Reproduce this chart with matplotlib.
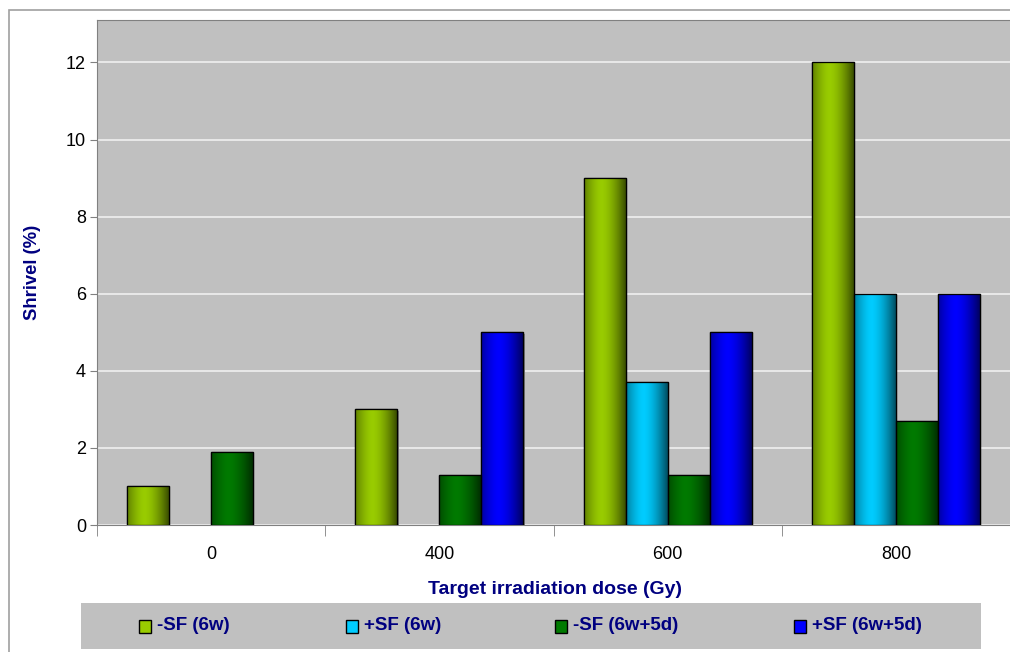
import numpy as np
import matplotlib.pyplot as plt
from matplotlib.patches import Rectangle
from matplotlib.colors import to_rgb

plt.rcParams['font.family'] = ['Liberation Sans', 'DejaVu Sans']

doses = ['0', '400', '600', '800']
series = ['-SF (6w)', '+SF (6w)', '-SF (6w+5d)', '+SF (6w+5d)']
minus_sf_6w = [1, 3, 9, 12]
plus_sf_6w = [0, 0, 3.7, 6]
minus_sf_6w5d = [1.9, 1.3, 1.3, 2.7]
plus_sf_6w5d = [0, 5, 5, 6]
colors = ['#99CC00', '#00CCFF', '#007A00', '#0000FF']

values = [minus_sf_6w, plus_sf_6w, minus_sf_6w5d, plus_sf_6w5d]
navy = '#000080'

fig = plt.figure(figsize=(10.1, 6.52), dpi=100)
# outer chart border
fig.patches.append(Rectangle((9/1010, -0.1), 1.2, 1 - 10/652 + 0.1, transform=fig.transFigure,
                             fill=False, edgecolor='#A0A0A0', linewidth=1.2))
ax = fig.add_axes([97/1010, 1 - 525/652, 1 - 97/1010, (525 - 20)/652])
ax.set_facecolor('#C0C0C0')

x = np.arange(len(doses))
w = 0.184
t = np.linspace(0, 1, 64)
shade = 1 - 0.62 * (np.abs(t - 0.42) / 0.58) ** 1.6

for i, (vals, c) in enumerate(zip(values, colors)):
    pos = x + (i - 1.5) * w
    bars = ax.bar(pos, vals, w, color=c, edgecolor='black', linewidth=0.9, zorder=3, label=series[i])
    base = np.array(to_rgb(c))
    grad = np.clip(shade[None, :, None] * base[None, None, :], 0, 1)
    for b, v in zip(bars, vals):
        if v <= 0:
            b.set_visible(False)
            continue
        # soft shadow to the right
        ax.add_patch(Rectangle((b.get_x() + 0.006, 0), w, v - 0.05, facecolor='#8A8A8A',
                               edgecolor='none', zorder=2.5))
        im = ax.imshow(grad, extent=(b.get_x(), b.get_x() + w, 0, v), aspect='auto', zorder=3.2,
                       interpolation='bilinear')
        im.set_clip_path(b)
        edge = Rectangle((b.get_x(), 0), w, v, fill=False, edgecolor='black', linewidth=0.9, zorder=3.5)
        ax.add_patch(edge)

ax.set_xlim(-0.5, 3.5)
ax.set_ylim(0, 13.1)
ax.set_yticks(np.arange(0, 13, 2))
ax.yaxis.grid(True, color='#F0F0F0', linewidth=1.2, zorder=0)
ax.set_axisbelow(True)
ax.set_xticks(x)
ax.set_xticklabels(doses, fontsize=13)
ax.set_xticks(np.arange(-0.5, 4, 1), minor=True)
ax.tick_params(axis='x', which='major', length=0, pad=15)
ax.tick_params(axis='x', which='minor', length=8, color='#808080')
ax.tick_params(axis='y', length=5, color='#808080', labelsize=13, pad=3)

for s in ['right']:
    ax.spines[s].set_visible(False)
for s in ['left', 'bottom', 'top']:
    ax.spines[s].set_color('#808080')

ax.set_ylabel('Shrivel (%)', fontsize=13.3, fontweight='bold', color=navy)
ax.yaxis.set_label_coords(-56/913, 0.5)
fig.text(555/1010, 1 - 589/652, 'Target irradiation dose (Gy)', ha='center', va='center',
         fontsize=14, fontweight='bold', color=navy)

# legend box
fig.patches.append(Rectangle((81/1010, 1 - 649/652), 900/1010, 46/652, transform=fig.transFigure,
                             facecolor='#C0C0C0', edgecolor='none'))
marker_x = [145, 352, 561, 800]
for mx, name, c in zip(marker_x, series, colors):
    fig.patches.append(Rectangle(((mx - 6)/1010, 1 - 633/652), 12/1010, 13/652, transform=fig.transFigure,
                                 facecolor=c, edgecolor='black', linewidth=1.0))
    fig.text((mx + 12)/1010, 1 - 626/652, name, ha='left', va='center', fontsize=13.5,
             fontweight='bold', color=navy)

fig.savefig('out.png', dpi=100)
